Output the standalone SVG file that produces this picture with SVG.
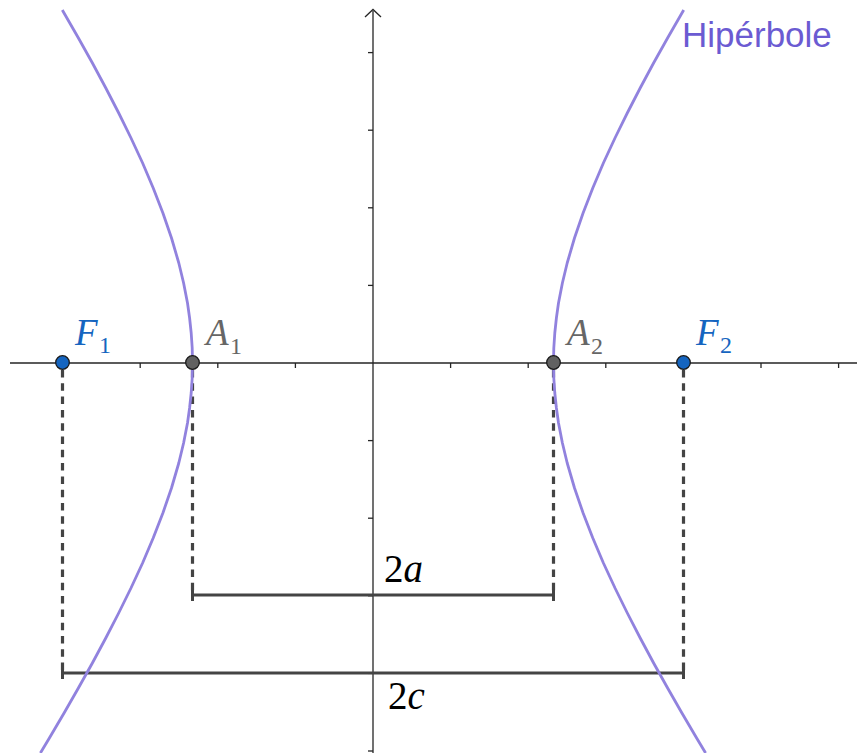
<svg xmlns="http://www.w3.org/2000/svg" width="857" height="753" viewBox="0 0 857 753">
<style>
.axis{stroke:#252525;stroke-width:1.3;fill:none}
.tick{stroke:#252525;stroke-width:1.3}
.dash{stroke:#444;stroke-width:3.2;stroke-dasharray:7.5 5.8;fill:none}
.seg{stroke:#444;stroke-width:3;fill:none}
.curve{stroke:#9182de;stroke-width:2.8;fill:none;stroke-linejoin:round}
.math{font-family:"Liberation Serif","DejaVu Serif",serif;font-style:italic}
.sub{font-style:normal}
.blue{fill:#1565c0}
.gray{fill:#666666}
.pf{fill:#1565c0;stroke:#1a1a1a;stroke-width:1.3}
.pa{fill:#616161;stroke:#1a1a1a;stroke-width:1.3}
</style>
<defs>
<path id="branch" class="curve" d="M683.7,10 L667.6,38 L653.6,63 L640.2,88 L627.3,113 L615,138 L603.4,163 L592.8,188 L583.1,213 L574.5,238 L567.2,263 L562.4,283 L558.5,303 L556.4,318 L554.8,333 L553.8,348 L553.5,363 L553.8,378 L554.8,393 L556.4,408 L558.5,423 L562.4,443 L567.2,463 L574.5,488 L583.1,513 L592.8,538 L603.4,563 L615,588 L627.3,613 L640.2,638 L653.6,663 L667.6,688 L681.9,713 L696.6,738 L705.6,753"/>
</defs>
<rect width="857" height="753" fill="#fff"/>
<g id="axes">
<line class="axis" x1="10" y1="363" x2="857" y2="363"/>
<line class="axis" x1="373" y1="11" x2="373" y2="753"/>
<polyline class="axis" stroke-width="1.5" points="365,17 373,9.5 381,17"/>
<g class="tick">
<line x1="140.2" y1="363" x2="140.2" y2="368"/>
<line x1="217.8" y1="363" x2="217.8" y2="368"/>
<line x1="295.4" y1="363" x2="295.4" y2="368"/>
<line x1="450.6" y1="363" x2="450.6" y2="368"/>
<line x1="528.2" y1="363" x2="528.2" y2="368"/>
<line x1="605.8" y1="363" x2="605.8" y2="368"/>
<line x1="761" y1="363" x2="761" y2="368"/>
<line x1="838.6" y1="363" x2="838.6" y2="368"/>
<line x1="368" y1="52.6" x2="373" y2="52.6"/>
<line x1="368" y1="130.2" x2="373" y2="130.2"/>
<line x1="368" y1="207.8" x2="373" y2="207.8"/>
<line x1="368" y1="285.4" x2="373" y2="285.4"/>
<line x1="368" y1="440.6" x2="373" y2="440.6"/>
<line x1="368" y1="518.2" x2="373" y2="518.2"/>
<line x1="368" y1="595.8" x2="373" y2="595.8"/>
<line x1="368" y1="673.4" x2="373" y2="673.4"/>
<line x1="368" y1="751" x2="373" y2="751"/>
</g>
</g>
<g id="connectors">
<line class="dash" x1="62.5" y1="370" x2="62.5" y2="673"/>
<line class="dash" x1="192.5" y1="370" x2="192.5" y2="595"/>
<line class="dash" x1="553.5" y1="370" x2="553.5" y2="595"/>
<line class="dash" x1="683.5" y1="370" x2="683.5" y2="673"/>
<g id="seg-2a">
<line class="seg" x1="192.5" y1="595" x2="553.5" y2="595"/>
<line class="seg" x1="192.5" y1="589" x2="192.5" y2="601"/>
<line class="seg" x1="553.5" y1="589" x2="553.5" y2="601"/>
</g>
<g id="seg-2c">
<line class="seg" x1="62.5" y1="673" x2="683.5" y2="673"/>
<line class="seg" x1="62.5" y1="667" x2="62.5" y2="679"/>
<line class="seg" x1="683.5" y1="667" x2="683.5" y2="679"/>
</g>
</g>
<g id="hyperbola">
<use href="#branch"/>
<use href="#branch" transform="translate(746,0) scale(-1,1)"/>
<text x="682" y="47" font-family="Liberation Sans, Arial, sans-serif" font-size="35" fill="#6b5bd2">Hipérbole</text>
</g>
<g id="F1">
<circle class="pf" cx="62.5" cy="362.5" r="6.8"/>
<text class="math blue" x="75" y="345" font-size="37">F<tspan class="sub" x="99" y="353" font-size="24">1</tspan></text>
</g>
<g id="A1">
<circle class="pa" cx="192.5" cy="362.5" r="6.8"/>
<text class="math gray" x="206" y="345" font-size="37">A<tspan class="sub" x="230" y="354" font-size="24">1</tspan></text>
</g>
<g id="A2">
<circle class="pa" cx="553.5" cy="362.5" r="6.8"/>
<text class="math gray" x="567" y="345" font-size="37">A<tspan class="sub" x="591" y="354" font-size="24">2</tspan></text>
</g>
<g id="F2">
<circle class="pf" cx="683.5" cy="362.5" r="6.8"/>
<text class="math blue" x="696" y="345" font-size="37">F<tspan class="sub" x="720" y="353" font-size="24">2</tspan></text>
</g>
<g id="label-2a">
<text class="math" x="384" y="582" font-size="39" fill="#000"><tspan class="sub">2</tspan>a</text>
</g>
<g id="label-2c">
<text class="math" x="388" y="709" font-size="39" fill="#000"><tspan class="sub">2</tspan>c</text>
</g>
</svg>
